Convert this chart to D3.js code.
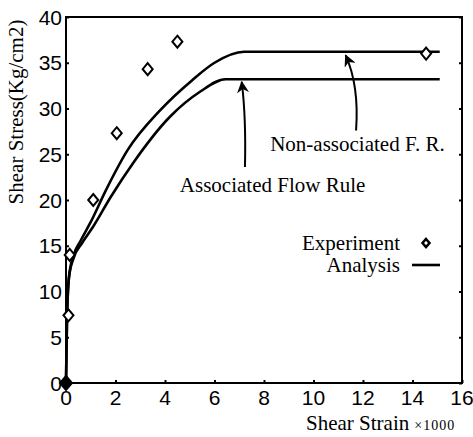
<!DOCTYPE html>
<html>
<head>
<meta charset="utf-8">
<script src="https://cdn.jsdelivr.net/npm/d3@7"></script>
<style>
  body { margin: 0; background: #fff; }
  svg text.tick { font-family: "Liberation Sans", Arial, sans-serif; font-size: 21px; }
  svg text.serif { font-family: "Liberation Serif", "Times New Roman", serif; font-size: 21px; }
</style>
</head>
<body>
<div id="vis"></div>
<script>
// experiment points (strain x1000, stress kg/cm2)
var expStrain = [0, 0.1, 0.15, 1.1, 2.05, 3.3, 4.5, 14.55];
var expStress = [0, 7.4, 14.0, 20.0, 27.3, 34.3, 37.3, 36.0];

// analysis curves
var nonAssocStrain = [0, 0.04, 0.12, 0.3, 0.6, 1.0, 1.6, 2.5, 3.8, 5.1, 6.0, 7.2, 15.1];
var nonAssocStress = [0, 7, 11.6, 13.9, 15.6, 17.6, 21.0, 25.5, 29.8, 33.1, 35.0, 36.2, 36.2];
var assocStrain = [0, 0.04, 0.12, 0.3, 0.65, 1.1, 1.8, 2.7, 4.2, 5.4, 6.45, 15.1];
var assocStress = [0, 7, 11.5, 13.6, 15.3, 17.1, 20.3, 24.0, 29.1, 31.8, 33.2, 33.2];

var xTicks = [0, 2, 4, 6, 8, 10, 12, 14, 16];
var yTicks = [0, 5, 10, 15, 20, 25, 30, 35, 40];

var width = 473, height = 437;
var margin = {top: 17, right: 11, bottom: 54, left: 66};

var svg = d3.select("#vis").append("svg")
    .attr("width", width)
    .attr("height", height);

var x = d3.scaleLinear().domain([0, 16]).range([margin.left, width - margin.right]);
var y = d3.scaleLinear().domain([0, 40]).range([height - margin.bottom, margin.top]);

// frame
svg.append("rect")
    .attr("x", x(0)).attr("y", y(40))
    .attr("width", x(16) - x(0)).attr("height", y(0) - y(40))
    .style("fill", "none").style("stroke", "#000").style("stroke-width", 2);

// small inward ticks
svg.append("g")
    .attr("transform", "translate(0," + y(0) + ")")
    .call(d3.axisBottom(x).tickValues(xTicks).tickSize(-3).tickFormat(""));
svg.append("g")
    .attr("transform", "translate(" + x(0) + ",0)")
    .call(d3.axisLeft(y).tickValues(yTicks).tickSize(-3).tickFormat(""));
svg.append("g")
    .attr("transform", "translate(" + x(16) + ",0)")
    .call(d3.axisRight(y).tickValues(yTicks).tickSize(-3).tickFormat(""));
svg.selectAll(".domain").remove();
svg.selectAll(".tick line").style("stroke", "#000").style("stroke-width", 2);

svg.selectAll("text.xl")
    .data(xTicks)
  .enter().append("text")
    .attr("class", "tick")
    .attr("x", function(d) { return x(d); })
    .attr("y", y(0) + 22)
    .attr("text-anchor", "middle")
    .text(function(d) { return d; });

svg.selectAll("text.yl")
    .data(yTicks)
  .enter().append("text")
    .attr("class", "tick")
    .attr("x", x(0) - 4)
    .attr("y", function(d) { return y(d); })
    .attr("dy", "0.36em")
    .attr("text-anchor", "end")
    .text(function(d) { return d; });

// axis titles
svg.append("text")
    .attr("class", "serif")
    .attr("transform", "translate(23,112) rotate(-90)")
    .attr("text-anchor", "middle")
    .text("Shear Stress(Kg/cm2)");

var xt = svg.append("text")
    .attr("class", "serif")
    .attr("x", 306)
    .attr("y", 430);
xt.append("tspan").text("Shear Strain");
xt.append("tspan").attr("dx", 5).style("font-size", "14px").style("letter-spacing", "1px").text("\u00d71000");

// curves
var line = d3.line()
    .x(function(d) { return x(d[0]); })
    .y(function(d) { return y(d[1]); })
    .curve(d3.curveMonotoneX);

[[nonAssocStrain, nonAssocStress], [assocStrain, assocStress]].forEach(function(s) {
  svg.append("path")
      .datum(d3.zip(s[0], s[1]))
      .attr("d", line)
      .style("fill", "none")
      .style("stroke", "#000")
      .style("stroke-width", 2.6);
});

// experiment diamonds
function diamond(w, h) {
  return "M0," + (-h) + "L" + w + ",0L0," + h + "L" + (-w) + ",0Z";
}
svg.selectAll("path.pt")
    .data(d3.zip(expStrain, expStress))
  .enter().append("path")
    .attr("class", "pt")
    .attr("transform", function(d) { return "translate(" + x(d[0]) + "," + y(d[1]) + ")"; })
    .attr("d", function(d, i) { return i === 0 ? diamond(6, 7) : diamond(5, 6); })
    .style("fill", function(d, i) { return i === 0 ? "#000" : "#fff"; })
    .style("stroke", "#000")
    .style("stroke-width", 2);

// annotations
svg.append("defs").append("marker")
    .attr("id", "arr")
    .attr("viewBox", "0 0 10 10")
    .attr("refX", 9).attr("refY", 5)
    .attr("markerWidth", 6).attr("markerHeight", 6)
    .attr("orient", "auto")
  .append("path")
    .attr("d", "M0,0L10,5L0,10L3,5Z")
    .style("fill", "#000");

var arrows = [
  [[11.72, 27.6], [11.85, 32.5], [11.3, 35.8]],
  [[7.23, 23.6], [7.28, 29.0], [7.1, 32.9]]
];
arrows.forEach(function(a) {
  svg.append("path")
      .attr("d", "M" + x(a[0][0]) + "," + y(a[0][1]) +
                 "Q" + x(a[1][0]) + "," + y(a[1][1]) + " " + x(a[2][0]) + "," + y(a[2][1]))
      .style("fill", "none")
      .style("stroke", "#000")
      .style("stroke-width", 2)
      .attr("marker-end", "url(#arr)");
});

svg.append("text").attr("class", "serif")
    .attr("x", x(8.25)).attr("y", y(25.35))
    .text("Non-associated F. R.");
svg.append("text").attr("class", "serif")
    .attr("x", x(4.6)).attr("y", y(20.9))
    .text("Associated Flow Rule");

// legend
svg.append("text").attr("class", "serif")
    .attr("x", 400).attr("y", 250)
    .attr("text-anchor", "end")
    .text("Experiment");
svg.append("path")
    .attr("transform", "translate(426,243)")
    .attr("d", diamond(3.5, 4))
    .style("fill", "#fff").style("stroke", "#000").style("stroke-width", 2.5);
svg.append("text").attr("class", "serif")
    .attr("x", 400).attr("y", 272)
    .attr("text-anchor", "end")
    .text("Analysis");
svg.append("line")
    .attr("x1", 412).attr("x2", 440).attr("y1", 265).attr("y2", 265)
    .style("stroke", "#000").style("stroke-width", 2.6);
</script>
</body>
</html>
